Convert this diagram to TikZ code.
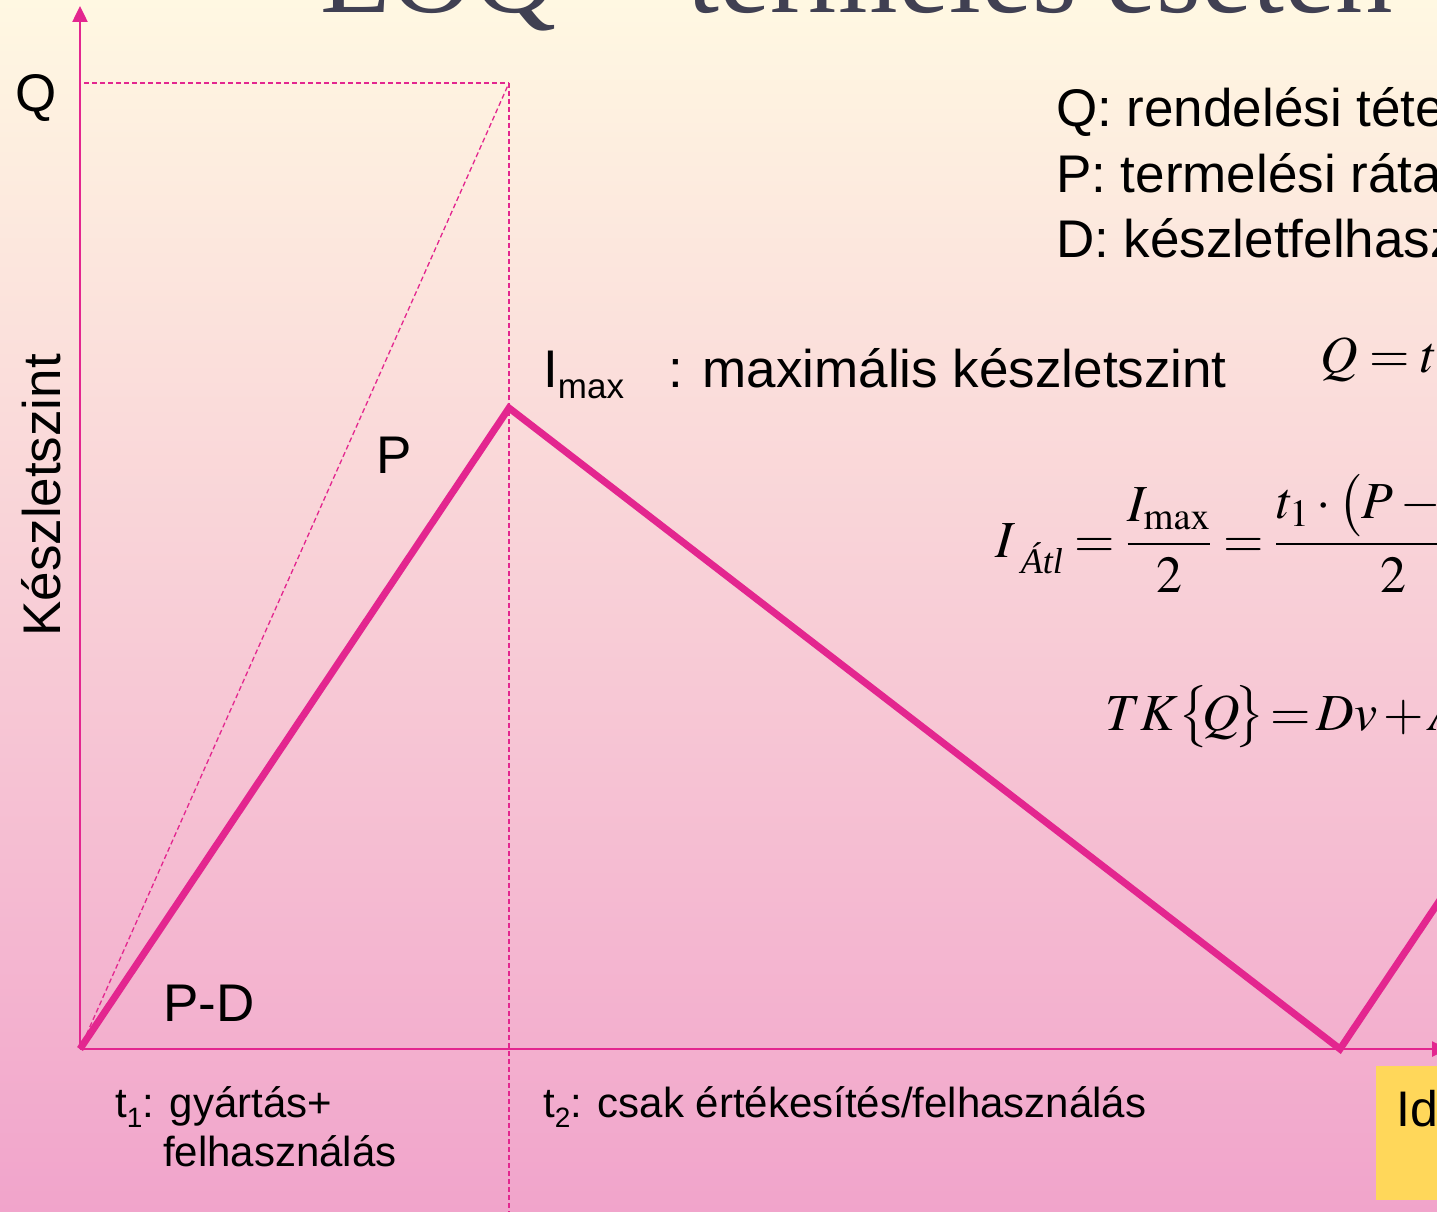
\documentclass[tikz,border=0pt]{standalone}
\usepackage{amsmath}
\usepackage{mathptmx}
\usepackage[no-math]{fontspec}
\setmainfont{Liberation Sans}
\newfontfamily\tms{Liberation Serif}
\usetikzlibrary{arrows.meta}
\definecolor{mag}{RGB}{227,38,143}
\definecolor{bgtop}{RGB}{255,248,226}
\definecolor{bgmid}{RGB}{249,214,222}
\definecolor{bgbot}{RGB}{241,164,203}
\definecolor{yel}{RGB}{255,215,90}
\definecolor{titlegray}{RGB}{64,64,82}
\begin{document}
\begin{tikzpicture}[x=1pt,y=-1pt,
  lbl/.style={inner sep=0pt, anchor=base west, text=black, font=\fontsize{53}{60}\selectfont},
  small/.style={inner sep=0pt, anchor=base west, text=black, font=\fontsize{42}{48}\selectfont},
  mth/.style={inner sep=0pt, anchor=base west, text=black, font=\fontsize{52}{60}\selectfont},
  axis/.style={draw=mag, line width=2.5pt, -{Triangle[length=16pt,width=15pt]}},
  guide/.style={draw=mag, line width=1.3pt, dash pattern=on 5pt off 3pt},
  curve/.style={draw=mag, line width=7pt, line join=miter}]
\useasboundingbox (0,0) rectangle (1437,1212);
\clip (0,0) rectangle (1437,1212);
\shade[top color=bgtop, middle color=bgmid, bottom color=bgbot] (0,0) rectangle (1437,1212);

% title
\node[inner sep=0pt, anchor=base west, text=titlegray, font=\tms\fontsize{115}{120}\selectfont] (title) at (320,13) {EOQ\kern8pt{} – \kern8pt termelés esetén};

% coordinates
\coordinate (O) at (80,1049);
\coordinate (ytip) at (80,6);
\coordinate (xtip) at (1448,1049);
\coordinate (Qy) at (84,83);
\coordinate (Qc) at (509,83);
\coordinate (bot) at (509,1212);
\coordinate (peak) at (509,408);
\coordinate (trough) at (1340,1049);
\coordinate (next) at (1442,897);

% yellow box
\fill[yel] (1376,1066) rectangle (1460,1200);
\node[inner sep=0pt, anchor=base west, text=black, font=\fontsize{50}{56}\selectfont] (ido) at (1396,1126) {Idő};

% guides
\draw[guide] (Qy) -- (Qc);
\draw[guide] (Qc) -- (bot);
\draw[guide] (O) -- (Qc);

% axes
\draw[axis] (O) -- (ytip);
\draw[axis] (O) -- (xtip);

% stock curve
\draw[curve] (O) -- (peak) -- (trough) -- (next);

% labels
\node[lbl] (lQ) at (15,112) {Q};
\node[lbl, rotate=90] (ylab) at (60,637) {Készletszint};
\node[lbl] (lP) at (376,473) {P};
\node[lbl] (lPD) at (163,1021) {P-D};
\node[lbl] (imax) at (543,387) {I\raisebox{-11pt}{\fontsize{35}{40}\selectfont max}};
\node[lbl] (imaxt) at (668,387) {: maximális készletszint};

\node[lbl] (legQ) at (1056,127) {Q: rendelési tétel};
\node[lbl] (legP) at (1056,192) {P: termelési ráta};
\node[lbl] (legD) at (1056,257) {D: készletfelhasználási ráta};

\node[small] (t1) at (115,1117) {t\raisebox{-10pt}{\fontsize{28}{30}\selectfont 1}: gyártás+};
\node[small] (t1b) at (163,1166) {felhasználás};
\node[small] (t2) at (543,1117) {t\raisebox{-10pt}{\fontsize{28}{30}\selectfont 2}: csak értékesítés/felhasználás};

% formulas
\node[mth] (fQ) at (1320,372) {$Q = t_1\cdot P$};
\node[mth] (fI) at (995,557) {$I\,\raisebox{-16pt}{\tms\itshape\fontsize{36}{38}\selectfont Átl} = \dfrac{I_{\mathrm{max}}}{2} = \dfrac{t_1\cdot\bigl(P-D\bigr)}{2}$};
\node[mth] (fTK) at (1105,730) {$TK\bigl\{\!Q\!\bigr\}\,{=}\,Dv\,{+}\,A\dfrac{D}{Q}$};
\end{tikzpicture}
\end{document}
